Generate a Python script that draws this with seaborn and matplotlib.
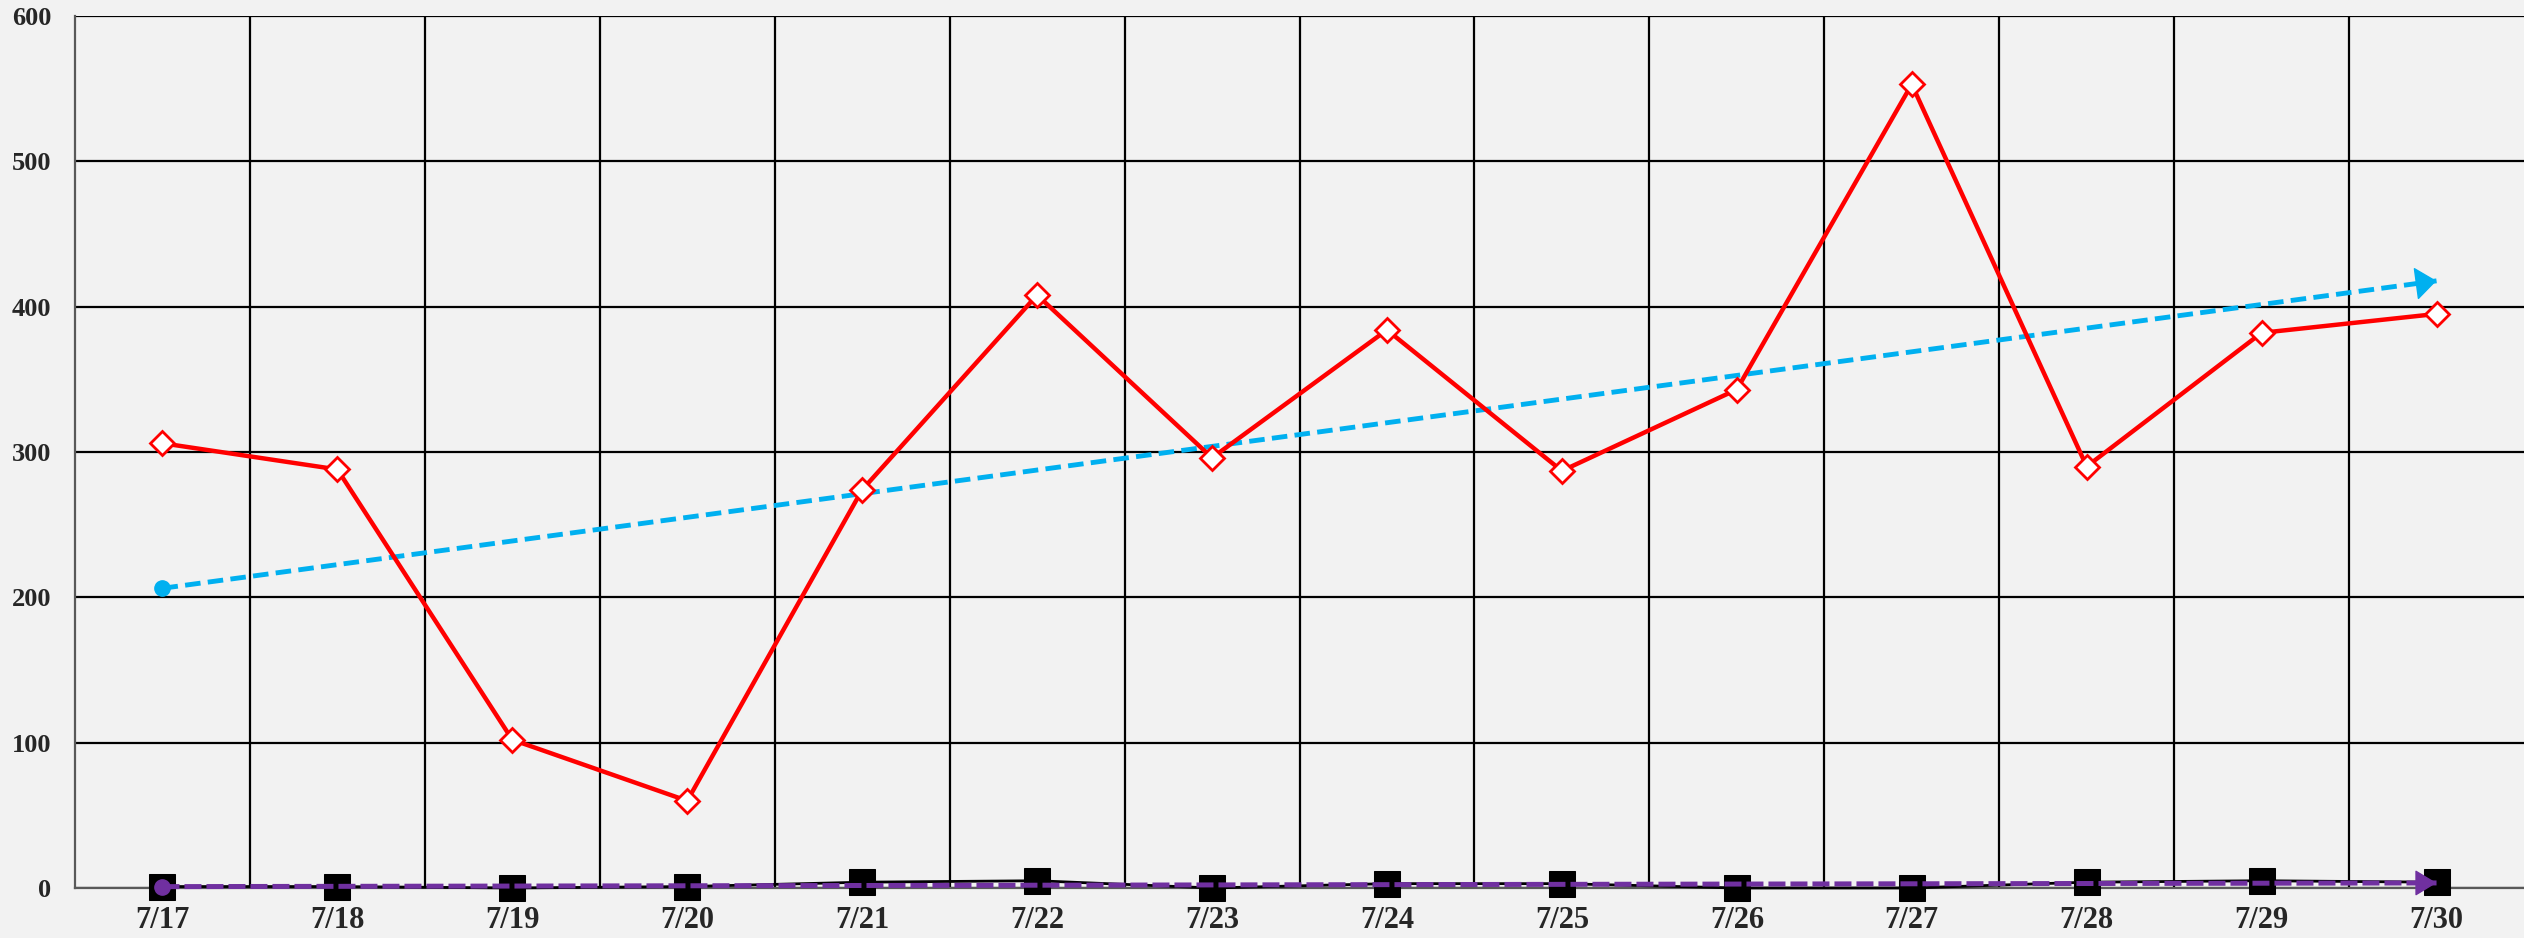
import numpy as np
import pandas as pd
import matplotlib
matplotlib.use("Agg")
import matplotlib.pyplot as plt
import seaborn as sns

dates = ["7/17", "7/18", "7/19", "7/20", "7/21", "7/22", "7/23",
         "7/24", "7/25", "7/26", "7/27", "7/28", "7/29", "7/30"]
red_values = [306, 288, 102, 60, 274, 408, 296, 384, 287, 343, 553, 290, 382, 395]
black_values = [1, 1, 0, 1, 4, 5, 0, 3, 3, 0, 0, 4, 5, 4]
y_ticks = [0, 100, 200, 300, 400, 500, 600]

RED = "#FF0000"
BLUE = "#00B0F0"
PURPLE = "#7030A0"
BG = "#F2F2F2"

sns.set_theme(style="white")
plt.rcParams['font.family'] = ['Liberation Serif', 'DejaVu Serif']

idx = np.arange(len(dates))
df = pd.DataFrame({"idx": idx, "red": red_values, "black": black_values})

# linear trend lines (derived from the series)
rp = np.polyfit(idx, red_values, 1)
bp = np.polyfit(idx, black_values, 1)
df["red_trend"] = np.polyval(rp, idx)
df["black_trend"] = np.polyval(bp, idx)

fig = plt.figure(figsize=(25.24, 9.38), dpi=100, facecolor=BG)
ax = fig.add_axes([75 / 2524, 50 / 938, 1 - 75 / 2524, (888 - 16) / 938])
ax.set_facecolor(BG)

# black series with squares
sns.lineplot(data=df, x="idx", y="black", ax=ax, color="black", lw=2,
             marker="s", markersize=19, markeredgecolor="black",
             markerfacecolor="black", clip_on=False, zorder=4)

# purple trend
sns.lineplot(data=df, x="idx", y="black_trend", ax=ax, color=PURPLE, lw=3.6,
             linestyle=(0, (3.4, 1.0)), clip_on=False, zorder=5)
ax.plot(df["idx"].iloc[0], df["black_trend"].iloc[0], "o", color=PURPLE,
        markersize=11, clip_on=False, zorder=5)
x0 = df["idx"].iloc[-1] - 0.09
ax.annotate("", xy=(df["idx"].iloc[-1], df["black_trend"].iloc[-1]),
            xytext=(x0, np.polyval(bp, x0)),
            arrowprops=dict(arrowstyle="-|>,head_length=1.15,head_width=0.7",
                            color=PURPLE, lw=1, shrinkA=0, shrinkB=0),
            zorder=6, annotation_clip=False)

# blue trend
sns.lineplot(data=df, x="idx", y="red_trend", ax=ax, color=BLUE, lw=3.5,
             linestyle=(0, (3.2, 1.5)), zorder=3)
ax.plot(df["idx"].iloc[0], df["red_trend"].iloc[0], "o", color=BLUE,
        markersize=11, zorder=3)
ax.annotate("", xy=(df["idx"].iloc[-1], df["red_trend"].iloc[-1]),
            xytext=(x0, np.polyval(rp, x0)),
            arrowprops=dict(arrowstyle="-|>,head_length=1.15,head_width=0.9",
                            color=BLUE, lw=1, shrinkA=0, shrinkB=0),
            zorder=3)

# red series with diamonds
sns.lineplot(data=df, x="idx", y="red", ax=ax, color=RED, lw=3.2,
             marker="D", markersize=12.5, markerfacecolor="white",
             markeredgecolor=RED, markeredgewidth=2, zorder=4)

ax.set_xlim(-0.5, len(dates) - 0.5)
ax.set_ylim(0, 600)
ax.set_xticks(idx)
ax.set_xticklabels(dates, fontsize=22, fontweight="bold")
ax.set_xticks(idx[:-1] + 0.5, minor=True)
ax.set_yticks(y_ticks)
ax.set_yticklabels([str(v) for v in y_ticks], fontsize=19, fontweight="bold")
ax.tick_params(axis="both", which="both", length=0)
ax.tick_params(axis="x", pad=13)
ax.tick_params(axis="y", pad=17)
ax.grid(False)
ax.grid(True, axis="y", which="major", color="black", lw=1.6)
ax.grid(True, axis="x", which="minor", color="black", lw=1.6)
ax.set_xlabel("")
ax.set_ylabel("")
if ax.get_legend():
    ax.get_legend().remove()

for s in ["top", "right"]:
    ax.spines[s].set_visible(False)
for s in ["left", "bottom"]:
    ax.spines[s].set_color("#595959")
    ax.spines[s].set_linewidth(1.6)
    ax.spines[s].set_zorder(2)

fig.savefig("out.png", dpi=100, facecolor=BG)
